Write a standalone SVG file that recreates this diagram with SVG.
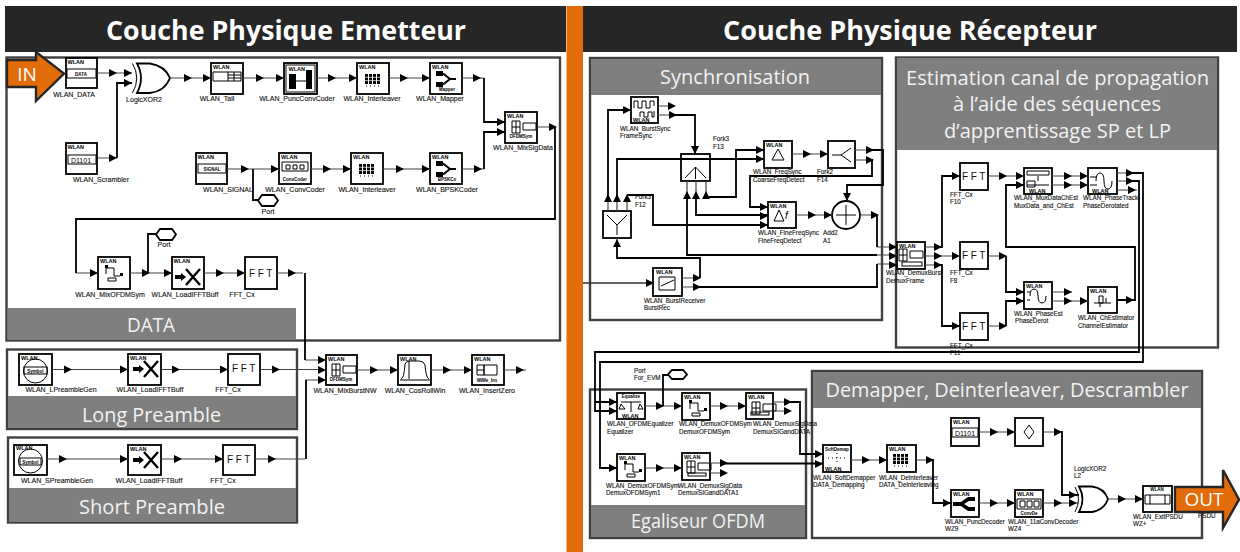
<svg xmlns="http://www.w3.org/2000/svg" width="1240" height="552" viewBox="0 0 1240 552">
<style>
text{font-family:"Liberation Sans",Arial,sans-serif}
.ti{font-family:"Open Sans","Noto Sans",sans-serif;font-weight:700;fill:#fff;font-size:26px;text-anchor:middle}
.bt{font-family:"Open Sans","Noto Sans",sans-serif;fill:#f2f2f2;font-size:20px;text-anchor:middle}
.cont{fill:none;stroke:#404040;stroke-width:2.4}
.band{fill:#7f7f7f}
.b{fill:#fff;stroke:#000;stroke-width:1.8}
.l{font-size:6.3px;fill:#111;stroke:#111;stroke-width:.12}
.c{font-size:7px;fill:#111;text-anchor:middle;stroke:#111;stroke-width:.12}
.h{font-size:5.5px;font-weight:700;fill:#000}
.s{font-size:4.5px;font-weight:700;fill:#000;text-anchor:middle}
.f{font-size:10px;fill:#111;letter-spacing:2.5px;text-anchor:middle}
.i{fill:none;stroke:#000;stroke-width:1}
.k{fill:#000}
.t{fill:none;stroke:#444;stroke-width:1.2}
.w{fill:none;stroke:#000;stroke-width:1.8}
.org{fill:#e36c0a;stroke:#262626;stroke-width:2.4}
</style>
<defs>
<path id="r" d="M-4-4L4 0L-4 4Z"/>
<path id="u" d="M-4 4L0-4L4 4Z"/>
<path id="d" d="M-4-4L0 4L4-4Z"/>
<g id="grid"><path class="k" d="M0 0h3v10h-3zM4 0h3v10h-3zM8 0h3v10h-3zM12 0h3v10h-3z"/><path d="M0 3.300h15M0 6.600h15" stroke="#fff" stroke-width=".7"/><path d="M1 12h1M5 12h1M9 12h1M13 12h1" stroke="#000"/></g>
<g id="map"><path class="k" d="M0 0h7v5h-7zM0 11h7v5h-7z"/><path d="M7 2.500L14 8L7 13.500M14 8h6" fill="none" stroke="#000" stroke-width="2"/></g>
<g id="cross"><path class="k" d="M0-2h6v-2l5 4l-5 4v-2h-6z"/><path d="M11-8L25 8M25-8L11 8" stroke="#000" stroke-width="2.400"/></g>
<g id="mux"><path class="i" d="M0 0h8v12h-8zM11 2h13v7h-13z"/><path class="i" d="M0 6h8M4 0v12"/></g>
<g id="demsym"><path class="i" d="M14 4h-8v6M14 4v8h6M8 14h8v3h-8z"/><path class="k" d="M5 1h3v3h-3zM20 9h3v3h-3z"/></g>
</defs>

<rect x="5" y="6" width="561" height="46" fill="#262626"/>
<rect x="583" y="6" width="654" height="46" fill="#262626"/>
<rect x="566.500" y="6" width="16.500" height="546" fill="#e36c0a"/>
<text class="ti" x="286" y="40" textLength="360" lengthAdjust="spacingAndGlyphs">Couche Physique Emetteur</text>
<text class="ti" x="910" y="40" textLength="374" lengthAdjust="spacingAndGlyphs">Couche Physique Récepteur</text>

<g id="box_data"><rect class="cont" x="6.500" y="57.500" width="553.500" height="283"/><rect class="band" x="8" y="308" width="288" height="31"/><text class="bt" x="151" y="332" textLength="48" lengthAdjust="spacingAndGlyphs">DATA</text></g>
<g id="box_long"><rect class="cont" x="7" y="349.500" width="290" height="79.500"/><rect class="band" x="8" y="396" width="288" height="32"/><text class="bt" x="151.500" y="422" textLength="139" lengthAdjust="spacingAndGlyphs">Long Preamble</text></g>
<g id="box_short"><rect class="cont" x="8" y="437.500" width="289" height="85"/><rect class="band" x="9" y="488" width="287" height="33.500"/><text class="bt" x="152" y="514" textLength="146" lengthAdjust="spacingAndGlyphs">Short Preamble</text></g>
<g id="box_sync"><rect class="cont" x="590" y="58" width="292" height="262"/><rect class="band" x="591" y="59" width="290" height="36"/><text class="bt" x="735" y="84" textLength="150" lengthAdjust="spacingAndGlyphs">Synchronisation</text></g>
<g id="box_est"><rect class="cont" x="896" y="57.500" width="322" height="290"/><rect class="band" x="897" y="58" width="320" height="92"/><text class="bt" x="1057.500" y="85" textLength="303" lengthAdjust="spacingAndGlyphs">Estimation canal de propagation</text><text class="bt" x="1057" y="111" textLength="208" lengthAdjust="spacingAndGlyphs">à l’aide des séquences</text><text class="bt" x="1057.500" y="138" textLength="227" lengthAdjust="spacingAndGlyphs">d’apprentissage SP et LP</text></g>
<g id="box_eq"><rect class="cont" x="590" y="389.500" width="216" height="148.500"/><rect class="band" x="591" y="505" width="214" height="32"/><text class="bt" x="698" y="528" textLength="134" lengthAdjust="spacingAndGlyphs">Egaliseur OFDM</text></g>
<g id="box_dem"><rect class="cont" x="812" y="371" width="390" height="167"/><rect class="band" x="813" y="372" width="388" height="36"/><text class="bt" x="1007" y="397" textLength="363" lengthAdjust="spacingAndGlyphs">Demapper, Deinterleaver, Descrambler</text></g>

<g id="n_data"><rect class="b" x="66" y="58" width="31" height="30"/><text class="h" x="67.500" y="63.500">WLAN</text><rect class="i" x="67" y="69" width="29" height="9"/><text class="s" x="81" y="75.500">DATA</text><text class="c" x="74" y="97">WLAN_DATA</text></g>
<g id="n_xor1"><path class="b" d="M137 63.500H150Q165 66 170 78Q165 91 150 93H137Q145 78 137 63.500Z"/><path class="i" stroke-width="1.500" d="M132.500 63.500Q141 78 132.500 93"/><text class="c" x="144" y="102">LogicXOR2</text></g>
<g id="n_scr"><rect class="b" x="66" y="143" width="31" height="31"/><text class="h" x="67.500" y="148.500">WLAN</text><rect class="i" x="68" y="155" width="28" height="9"/><text x="81" y="162.500" font-size="7" text-anchor="middle">D1101</text><text class="c" x="101" y="182">WLAN_Scrambler</text></g>
<g id="n_tail"><rect class="b" x="211" y="63" width="32" height="31"/><text class="h" x="213" y="68.500">WLAN</text><path class="i" d="M213 72h28v9h-28zM228 72v9M234 72v9M228 75h13M228 78h13"/><text class="c" x="217" y="101">WLAN_Tail</text></g>
<g id="n_punc"><rect class="b" x="284" y="63" width="33" height="31"/><rect class="i" x="286" y="65" width="29" height="27"/><text class="h" x="288.500" y="71">WLAN</text><path class="k" d="M289 74h7v15h-7zM306 70h6v19h-6z"/><path class="i" d="M296 81h10"/><text class="c" x="297" y="101">WLAN_PuncConvCoder</text></g>
<g id="n_int1"><rect class="b" x="357" y="63" width="32" height="31"/><text class="h" x="359" y="68.500">WLAN</text><use href="#grid" x="365" y="74"/><text class="c" x="372" y="101">WLAN_Interleaver</text></g>
<g id="n_map"><rect class="b" x="430" y="63" width="32" height="31"/><text class="h" x="432" y="68.500">WLAN</text><use href="#map" x="436" y="71"/><text class="s" x="447" y="91">Mapper</text><text class="c" x="440" y="101">WLAN_Mapper</text></g>
<g id="n_mixsig"><rect class="b" x="505" y="112" width="32" height="31"/><text class="h" x="507" y="118">WLAN</text><use href="#mux" x="512" y="121"/><text class="s" x="521" y="138">OFDMSym</text><text class="c" x="523" y="150">WLAN_MixSigData</text></g>
<g id="n_signal"><rect class="b" x="196" y="153" width="31" height="31"/><text class="h" x="197.500" y="158.500">WLAN</text><rect class="i" x="198" y="164" width="28" height="9"/><text class="s" x="212" y="170.500">SIGNAL</text><text class="c" x="228" y="192">WLAN_SIGNAL</text></g>
<g id="n_port1"><path class="b" stroke-width="1.300" d="M258 200.500L262 195H274L278 200.500L274 206H262Z"/><text class="c" x="268" y="214">Port</text></g>
<g id="n_conv"><rect class="b" x="279" y="153" width="32" height="31"/><text class="h" x="281" y="159">WLAN</text><path class="i" d="M282 162h26v9h-26zM286 165h4v4h-4zM293 165h4v4h-4zM300 165h4v4h-4z"/><text class="s" x="295" y="181">ConvCoder</text><text class="c" x="295" y="192">WLAN_ConvCoder</text></g>
<g id="n_int2"><rect class="b" x="351" y="153" width="32" height="31"/><text class="h" x="353" y="158.500">WLAN</text><use href="#grid" x="359" y="164"/><text class="c" x="367" y="192">WLAN_Interleaver</text></g>
<g id="n_bpsk"><rect class="b" x="430" y="153" width="32" height="31"/><text class="h" x="432" y="158.500">WLAN</text><use href="#map" x="436" y="161"/><text class="s" x="447" y="181">BPSKCo</text><text class="c" x="447" y="192">WLAN_BPSKCoder</text></g>
<g id="n_mixofdm"><rect class="b" x="98" y="257" width="32" height="32"/><text class="h" x="100" y="262.500">WLAN</text><use href="#demsym" x="100" y="264"/><text class="c" x="110" y="297">WLAN_MixOFDMSym</text></g>
<g id="n_port2"><path class="b" stroke-width="1.300" d="M156 234.500L160 229H172L176 234.500L172 240H160Z"/><text class="c" x="164" y="247">Port</text></g>
<g id="n_load1"><rect class="b" x="172" y="257" width="32" height="32"/><text class="h" x="173.500" y="262.500">WLAN</text><use href="#cross" x="175" y="277"/><text class="c" x="185" y="297">WLAN_LoadIFFTBuff</text></g>
<g id="n_fft1"><rect class="b" x="245" y="257" width="32" height="32"/><text class="f" x="262" y="277">FFT</text><text class="c" x="242" y="297">FFT_Cx</text></g>
<g id="n_lpre"><rect class="b" x="19" y="354" width="33" height="31"/><text class="h" x="21" y="359.500">WLAN</text><circle class="i" cx="35.500" cy="371" r="12"/><rect class="i" x="24" y="367" width="23" height="7"/><text class="s" x="35.500" y="372.500">Symbol</text><text class="c" x="61" y="392">WLAN_LPreambleGen</text></g>
<g id="n_load2"><rect class="b" x="128" y="354" width="33" height="31"/><text class="h" x="130" y="359.500">WLAN</text><use href="#cross" x="133" y="369"/><text class="c" x="150" y="392">WLAN_LoadIFFTBuff</text></g>
<g id="n_fft2"><rect class="b" x="228" y="354" width="32" height="31"/><text class="f" x="245" y="372">FFT</text><text class="c" x="228" y="392">FFT_Cx</text></g>
<g id="n_spre"><rect class="b" x="14" y="445" width="33" height="30"/><text class="h" x="16" y="450">WLAN</text><circle class="i" cx="30.500" cy="461" r="12"/><rect class="i" x="20" y="458" width="21" height="7"/><text class="s" x="30.500" y="463.500">Symbol</text><text class="c" x="57" y="483">WLAN_SPreambleGen</text></g>
<g id="n_load3"><rect class="b" x="128" y="445" width="33" height="30"/><text class="h" x="130" y="450.500">WLAN</text><use href="#cross" x="133" y="460"/><text class="c" x="149" y="483">WLAN_LoadIFFTBuff</text></g>
<g id="n_fft3"><rect class="b" x="223" y="445" width="32" height="30"/><text class="f" x="240" y="463">FFT</text><text class="c" x="223" y="483">FFT_Cx</text></g>
<g id="n_mixburst"><rect class="b" x="326" y="355" width="31" height="30"/><text class="h" x="328" y="360.500">WLAN</text><use href="#mux" x="332" y="364"/><text class="s" x="341" y="381">OFDMSym</text><text class="c" x="345" y="393">WLAN_MixBurstNW</text></g>
<g id="n_roll"><rect class="b" x="398" y="355" width="33" height="30"/><text class="h" x="400" y="360.500">WLAN</text><path class="i" d="M401 379Q404 379 405 364Q406 361 410 361H419Q424 361 425 365Q426 378 429 379M409 361v18M400 380h30"/><text class="c" x="415" y="393">WLAN_CosRollWin</text></g>
<g id="n_zero"><rect class="b" x="472" y="355" width="32" height="30"/><text class="h" x="474" y="360.500">WLAN</text><path class="i" d="M477 365h7v10h-7zM484 365h13v10h-13zM477 370h7"/><text class="s" x="487" y="382">WiMe_Ins</text><text class="c" x="487" y="393">WLAN_InsertZero</text></g>

<g id="n_fsync"><rect class="b" x="631" y="97" width="27" height="26"/><path class="i" stroke-width="1.200" d="M634 108v-7h4v7h4v-7h4v7h4v-7h4v5M640 117v-5h4v5h4v-5h4v5h2v-6"/><text class="h" x="633" y="122">WLAN</text><text class="l" x="620" y="131">WLAN_BurstSync</text><text class="l" x="620" y="138">FrameSync</text></g>
<g id="n_f13"><rect class="b" x="681" y="154" width="29" height="27"/><path class="i" d="M695.500 167v12M695.500 167L685 178M695.500 167L706 178"/><text class="l" x="713" y="141">Fork3</text><text class="l" x="713" y="149">F13</text></g>
<g id="n_f12"><rect class="b" x="603" y="211" width="28" height="27"/><path class="i" d="M617 225v10M617 225L607 215M617 225L627 215"/><text class="l" x="635" y="199">Fork3</text><text class="l" x="635" y="207">F12</text></g>
<g id="n_brec"><rect class="b" x="653" y="268" width="29" height="28"/><text class="h" x="656" y="273.500">WLAN</text><path class="i" stroke="#555" d="M659 277h16v13h-16zM661 286l13-6"/><text class="l" x="644" y="303">WLAN_BurstReceiver</text><text class="l" x="644" y="310">BurstRec</text></g>
<g id="n_coarse"><rect class="b" x="764" y="141" width="28" height="27"/><text class="h" x="766" y="146.500">WLAN</text><path class="i" d="M778 149l-6 11h12z"/><text class="l" x="753" y="174">WLAN_FreqSync</text><text class="l" x="753" y="182">CoarseFreqDetect</text></g>
<g id="n_f14"><rect class="b" x="828" y="141" width="27" height="27"/><path class="i" d="M832 155h9M841 155L851 148M841 155L851 162"/><text class="l" x="817" y="174">Fork2</text><text class="l" x="817" y="182">F14</text></g>
<g id="n_fine"><rect class="b" x="768" y="202" width="28" height="26"/><text class="h" x="770" y="207.500">WLAN</text><path class="i" d="M779 210l-5 11h10z"/><text x="785" y="219" font-size="10" font-style="italic">f</text><text class="l" x="758" y="235">WLAN_FineFreqSync</text><text class="l" x="758" y="243">FineFreqDetect</text></g>
<g id="n_add"><circle class="b" cx="846" cy="215" r="14"/><path class="i" d="M836 215h20M846 205v20"/><text class="l" x="823" y="235">Add2</text><text class="l" x="823" y="243">A1</text></g>
<g id="n_demux"><rect class="b" x="897" y="242" width="28" height="27"/><text class="h" x="899" y="247.500">WLAN</text><use href="#mux" x="899" y="249"/><rect class="i" x="902" y="262" width="20" height="4"/><text class="l" x="886" y="275">WLAN_DemuxBurst</text><text class="l" x="886" y="283">DemuxFrame</text></g>
<g id="n_f10"><rect class="b" x="960" y="163" width="28" height="27"/><text class="f" x="975" y="180">FFT</text><text class="l" x="950" y="197">FFT_Cx</text><text class="l" x="950" y="204">F10</text></g>
<g id="n_f8"><rect class="b" x="960" y="242" width="28" height="27"/><text class="f" x="975" y="259">FFT</text><text class="l" x="950" y="275">FFT_Cx</text><text class="l" x="950" y="283">F8</text></g>
<g id="n_f11"><rect class="b" x="960" y="313" width="28" height="27"/><text class="f" x="975" y="330">FFT</text><text class="l" x="950" y="348">FFT_Cx</text><text class="l" x="950" y="355">F11</text></g>
<g id="n_muxch"><rect class="b" x="1024" y="168" width="28" height="26"/><path class="i" d="M1027 171h22v4h-22zM1027 185h22M1027 181h8v6h-8zM1038 176v5"/><text class="h" x="1029" y="193">WLAN</text><text class="l" x="1014" y="200">WLAN_MuxDataChEst</text><text class="l" x="1014" y="208">MuxData_and_ChEst</text></g>
<g id="n_ptrack"><rect class="b" x="1088" y="168" width="29" height="26"/><path class="i" stroke-width="1.400" d="M1096 181q0-8 4-8t4 8t4 8t4-8M1090 177h7M1090 185h7"/><text class="h" x="1092" y="193">WLAN</text><text class="l" x="1083" y="200">WLAN_PhaseTrack</text><text class="l" x="1083" y="208">PhaseDerotated</text></g>
<g id="n_pest"><rect class="b" x="1024" y="282" width="28" height="27"/><text class="h" x="1026" y="287.500">WLAN</text><path class="i" stroke-width="1.400" d="M1030 296q0-7 4-7t4 7t4 7t4-7M1027 292h3M1027 300h3"/><text class="l" x="1014" y="316">WLAN_PhaseEst</text><text class="l" x="1015" y="323">PhaseDerot</text></g>
<g id="n_chest"><rect class="b" x="1088" y="287" width="29" height="26"/><text class="h" x="1090" y="292.500">WLAN</text><path class="i" d="M1094 303h17M1099 296h4v7h-4zM1106 298v5M1100 303v4"/><text class="l" x="1078" y="320">WLAN_ChEstimator</text><text class="l" x="1078" y="328">ChannelEstimator</text></g>
<g id="n_eq"><rect class="b" x="617" y="393" width="28" height="26"/><text class="s" x="631" y="398">Equalize</text><path class="i" d="M621 402h20M631 402v10M621 404l-2 5h6zM640 404l-2 5h5z"/><text class="h" x="622" y="418">WLAN</text><text class="l" x="607" y="426">WLAN_OFDMEqualizer</text><text class="l" x="607" y="434">Equalizer</text></g>
<g id="n_port3"><path class="b" stroke-width="1.300" d="M668 374.500L672 370H683L687 374.500L683 379H672Z"/><text class="l" x="634" y="373">Port</text><text class="l" x="634" y="380">For_EVM</text></g>
<g id="n_dsym"><rect class="b" x="682" y="393" width="28" height="27"/><text class="h" x="684" y="398.500">WLAN</text><use href="#demsym" x="684" y="399"/><text class="l" x="679" y="426">WLAN_DemuxOFDMSym</text><text class="l" x="679" y="434">DemuxOFDMSym</text></g>
<g id="n_dsig"><rect class="b" x="746" y="393" width="27" height="26"/><text class="h" x="748" y="398.500">WLAN</text><use href="#mux" x="752" y="402"/><rect class="i" x="751" y="412" width="18" height="3"/><text class="l" x="753" y="426">WLAN_DemuxSigData</text><text class="l" x="753" y="434">DemuxSIGandDATA</text></g>
<g id="n_dsym1"><rect class="b" x="617" y="454" width="28" height="27"/><text class="h" x="619" y="459.500">WLAN</text><use href="#demsym" x="619" y="460"/><text class="l" x="606" y="488">WLAN_DemuxOFDMSym</text><text class="l" x="606" y="495">DemuxOFDMSym1</text></g>
<g id="n_dsig1"><rect class="b" x="682" y="453" width="28" height="27"/><text class="h" x="684" y="458.500">WLAN</text><use href="#mux" x="687" y="461"/><rect class="i" x="688" y="473" width="18" height="3"/><text class="l" x="678" y="488">WLAN_DemuxSigData</text><text class="l" x="678" y="495">DemuxSIGandDATA1</text></g>
<g id="n_demap"><rect class="b" x="823" y="445" width="28" height="27"/><text class="s" x="837" y="450.500">SoftDemap</text><path class="i" d="M828 458h19M837 453v11" stroke-dasharray="1 3"/><text class="h" x="825" y="470.500">WLAN</text><text class="l" x="813" y="480">WLAN_SoftDemapper</text><text class="l" x="813" y="487">DATA_Demapping</text></g>
<g id="n_deint"><rect class="b" x="887" y="445" width="29" height="27"/><text class="h" x="889" y="450.500">WLAN</text><use href="#grid" x="893" y="454"/><text class="l" x="879" y="480">WLAN_Deinterleaver</text><text class="l" x="879" y="487">DATA_Deinterleaving</text></g>
<g id="n_d1101"><rect class="b" x="951" y="418" width="28" height="28"/><text class="h" x="953" y="423.500">WLAN</text><rect class="i" x="952" y="428" width="26" height="9"/><text x="965" y="435.500" font-size="7" text-anchor="middle">D1101</text></g>
<g id="n_diam"><rect class="b" x="1015" y="418" width="28" height="28"/><path class="i" d="M1029 425l5 7l-5 7l-5-7z"/></g>
<g id="n_pdec"><rect class="b" x="951" y="490" width="28" height="27"/><text class="h" x="953" y="495.500">WLAN</text><path class="k" d="M953 502h8l7-5h7v4h-6l-5 3l5 3h6v4h-7l-7-5h-8z"/><text class="l" x="945" y="524">WLAN_PuncDecoder</text><text class="l" x="945" y="531">WZ9</text></g>
<g id="n_cdec"><rect class="b" x="1015" y="490" width="28" height="27"/><text class="h" x="1017" y="495.500">WLAN</text><path class="i" d="M1017 499h24v10h-24zM1020 501h5v6h-5zM1027 501h5v6h-5zM1034 501h5v6h-5z"/><text class="s" x="1029" y="515">ConvDe</text><text class="l" x="1008" y="524">WLAN_11aConvDecoder</text><text class="l" x="1008" y="531">WZ4</text></g>
<g id="n_xor2"><path class="b" d="M1079 486.500H1092Q1104 488 1108 499Q1104 510 1092 512H1079Q1086 499 1079 486.500Z"/><path class="i" stroke-width="1.500" d="M1075 487Q1082 499 1075 512"/><text class="l" x="1074" y="471">LogicXOR2</text><text class="l" x="1074" y="478">L2</text></g>
<g id="n_exit"><rect class="b" x="1143" y="486" width="29" height="26"/><text class="s" x="1157" y="491">WLAN</text><path class="i" d="M1145 495h25v9h-25zM1150 495v9M1165 495v9"/><text class="l" x="1133" y="519">WLAN_ExitPSDU</text><text class="l" x="1133" y="526">WZ+</text><text class="l" x="1198" y="518">PSDU</text></g>

<g id="connectors">
<g class="t">
<path d="M97 73H132M170 78H211M243 78H284M317 78H357M389 78H430M462 78H484M537 127H555"/>
<path d="M97 158H117M227 169H279M311 169H351M383 169H430M462 169H484"/>
<path d="M76 273H98M130 273H172M204 273H245M277 273H303"/>
<path d="M52 369.500H128M161 369.500H228M260 369.500H323"/>
<path d="M47 459H128M161 459H223M255 459H305"/>
<path d="M305 360H326M305 380H326M357 370H398M431 370H472M504 370H526"/>
<path d="M658 106H671M658 115H672M792 154H828M855 150H872M855 160H872M796 215H832M860 215H877"/>
<path d="M682 278H700M682 287H697M877 247H897M877 255H897M877 264H897"/>
<path d="M687 181V197M696 181V197M706 181V197M608 197V211M617 197V211M627 197V211M617 238V247"/>
<path d="M925 247H938M925 256H960M925 265H938M988 176H1024M988 256H1006M988 326H1006"/>
<path d="M1052 176H1088M1052 185H1088M1117 173H1132M1117 181H1132M1117 190H1137M1052 292H1072M1052 301H1088M1117 300H1135"/>
<path d="M645 406H682M710 406H746M773 402H790M773 411H790M645 468H682M710 463H724M710 473H726"/>
<path d="M851 460H887M916 460H933M979 432H1015M1043 432H1062M979 503H1015M1043 503H1079M1108 499H1143"/>
</g>
<g class="w">
<path d="M117 158V83H132"/>
<path d="M253 169V200H258"/>
<path d="M484 78V122H505M484 169V132H505"/>
<path d="M555 127V219H76V273"/>
<path d="M148 273V234H156"/>
<path d="M305 273V360M306 380V459"/>
<path d="M617 247V258H700V278"/>
<path d="M608 197V110H631"/>
<path d="M617 197V159H764"/>
<path d="M627 195H653V225H768"/>
<path d="M672 115H695V154"/>
<path d="M706 197H736V150H764"/>
<path d="M696 197V215H768"/>
<path d="M687 197V255H877"/>
<path d="M697 287H877V264"/>
<path d="M583 283H653" stroke="#333" stroke-width="1.300"/>
<path d="M870 150H883V185H847V200"/>
<path d="M870 160H872V176H750V207H768"/>
<path d="M877 215V247"/>
<path d="M938 247H942V176H960M938 265H942V326H960"/>
<path d="M1006 256V292H1024M1006 326V301H1024"/>
<path d="M1117 300H1135V247H1006V185H1024"/>
<path d="M1130 173H1143V362H600V468H617"/>
<path d="M1130 181H1139V352H595V411H617M595 402H617"/>
<path d="M663 406V375H668"/>
<path d="M788 402H800V454H823"/>
<path d="M722 463.500H823"/>
<path d="M930 460H933V503H951"/>
<path d="M1058 432H1062V495H1079"/>
</g>
<g class="k">
<use href="#r" x="113" y="73"/><use href="#r" x="128" y="73"/><use href="#r" x="113" y="158"/><use href="#r" x="128" y="83"/>
<use href="#r" x="188" y="78"/><use href="#r" x="207" y="78"/><use href="#r" x="260" y="78"/><use href="#r" x="280" y="78"/><use href="#r" x="332" y="78"/><use href="#r" x="353" y="78"/><use href="#r" x="404" y="78"/><use href="#r" x="426" y="78"/><use href="#r" x="477" y="78"/><use href="#r" x="501" y="122"/><use href="#r" x="501" y="132"/><use href="#r" x="553" y="127"/>
<use href="#r" x="245" y="169"/><use href="#r" x="275" y="169"/><use href="#r" x="327" y="169"/><use href="#r" x="347" y="169"/><use href="#r" x="400" y="169"/><use href="#r" x="426" y="169"/><use href="#r" x="478" y="169"/>
<use href="#r" x="94" y="273"/><use href="#r" x="146" y="273"/><use href="#r" x="168" y="273"/><use href="#r" x="220" y="273"/><use href="#r" x="241" y="273"/><use href="#r" x="292" y="273"/>
<use href="#r" x="68" y="369.500"/><use href="#r" x="124" y="369.500"/><use href="#r" x="176" y="369.500"/><use href="#r" x="224" y="369.500"/><use href="#r" x="276" y="369.500"/>
<use href="#r" x="63" y="459"/><use href="#r" x="124" y="459"/><use href="#r" x="178" y="459"/><use href="#r" x="219" y="459"/><use href="#r" x="272" y="459"/>
<use href="#r" x="322" y="360"/><use href="#r" x="322" y="370"/><use href="#r" x="322" y="380"/><use href="#r" x="374" y="370"/><use href="#r" x="394" y="370"/><use href="#r" x="447" y="370"/><use href="#r" x="468" y="370"/><use href="#r" x="520" y="370"/>
<use href="#r" x="627" y="110"/><use href="#r" x="672" y="106"/><use href="#r" x="673" y="115"/><use href="#d" x="695" y="150"/>
<use href="#u" x="687" y="195"/><use href="#u" x="696" y="195"/><use href="#u" x="706" y="195"/><use href="#u" x="608" y="198"/><use href="#u" x="617" y="198"/><use href="#u" x="627" y="198"/><use href="#u" x="617" y="243"/>
<use href="#r" x="760" y="150"/><use href="#r" x="760" y="159"/><use href="#r" x="807" y="154"/><use href="#r" x="824" y="154"/><use href="#r" x="870" y="150"/><use href="#r" x="870" y="160"/><use href="#r" x="764" y="207"/><use href="#r" x="764" y="216"/><use href="#r" x="764" y="225"/><use href="#r" x="812" y="215"/><use href="#r" x="828" y="215"/><use href="#d" x="847" y="197"/><use href="#r" x="875" y="215"/>
<use href="#r" x="650" y="283"/><use href="#r" x="697" y="278"/><use href="#r" x="697" y="287"/><use href="#r" x="893" y="247"/><use href="#r" x="893" y="256"/><use href="#r" x="893" y="265"/>
<use href="#r" x="938" y="247"/><use href="#r" x="938" y="256"/><use href="#r" x="938" y="265"/><use href="#r" x="956" y="176"/><use href="#r" x="956" y="256"/><use href="#r" x="956" y="326"/><use href="#r" x="1003" y="176"/><use href="#r" x="1003" y="256"/><use href="#r" x="1003" y="326"/>
<use href="#r" x="1020" y="176"/><use href="#r" x="1020" y="185"/><use href="#r" x="1068" y="176"/><use href="#r" x="1068" y="185"/><use href="#r" x="1084" y="176"/><use href="#r" x="1084" y="185"/><use href="#r" x="1130" y="173"/><use href="#r" x="1130" y="181"/><use href="#r" x="1132" y="190"/>
<use href="#r" x="1020" y="292"/><use href="#r" x="1020" y="301"/><use href="#r" x="1068" y="292"/><use href="#r" x="1068" y="301"/><use href="#r" x="1084" y="301"/><use href="#r" x="1130" y="300"/>
<use href="#r" x="613" y="402"/><use href="#r" x="613" y="411"/><use href="#r" x="613" y="468"/><use href="#r" x="660" y="406"/><use href="#r" x="678" y="406"/><use href="#r" x="724" y="406"/><use href="#r" x="742" y="406"/><use href="#r" x="788" y="402"/><use href="#r" x="788" y="411"/>
<use href="#r" x="660" y="468"/><use href="#r" x="678" y="468"/><use href="#r" x="724" y="463"/><use href="#r" x="724" y="473"/>
<use href="#r" x="819" y="454"/><use href="#r" x="819" y="464"/><use href="#r" x="866" y="460"/><use href="#r" x="883" y="460"/><use href="#r" x="930" y="460"/><use href="#r" x="947" y="503"/>
<use href="#r" x="994" y="432"/><use href="#r" x="1011" y="432"/><use href="#r" x="1058" y="432"/><use href="#r" x="994" y="503"/><use href="#r" x="1011" y="503"/><use href="#r" x="1058" y="503"/><use href="#r" x="1073" y="495"/><use href="#r" x="1073" y="503"/><use href="#r" x="1122" y="499"/><use href="#r" x="1139" y="499"/>
</g>
</g>

<g id="in_arrow"><path class="org" d="M7 60H36V52L64 73.500L36 101V87H7Z"/><text x="27" y="81" font-size="19" fill="#fff" text-anchor="middle" style="font-family:'Open Sans',sans-serif">IN</text></g>
<g id="out_arrow"><path class="org" d="M1175 487H1223V470L1239 499.500L1223 528V512H1175Z"/><text x="1204" y="506" font-size="19" fill="#fff" text-anchor="middle" style="font-family:'Open Sans',sans-serif">OUT</text></g>
</svg>
